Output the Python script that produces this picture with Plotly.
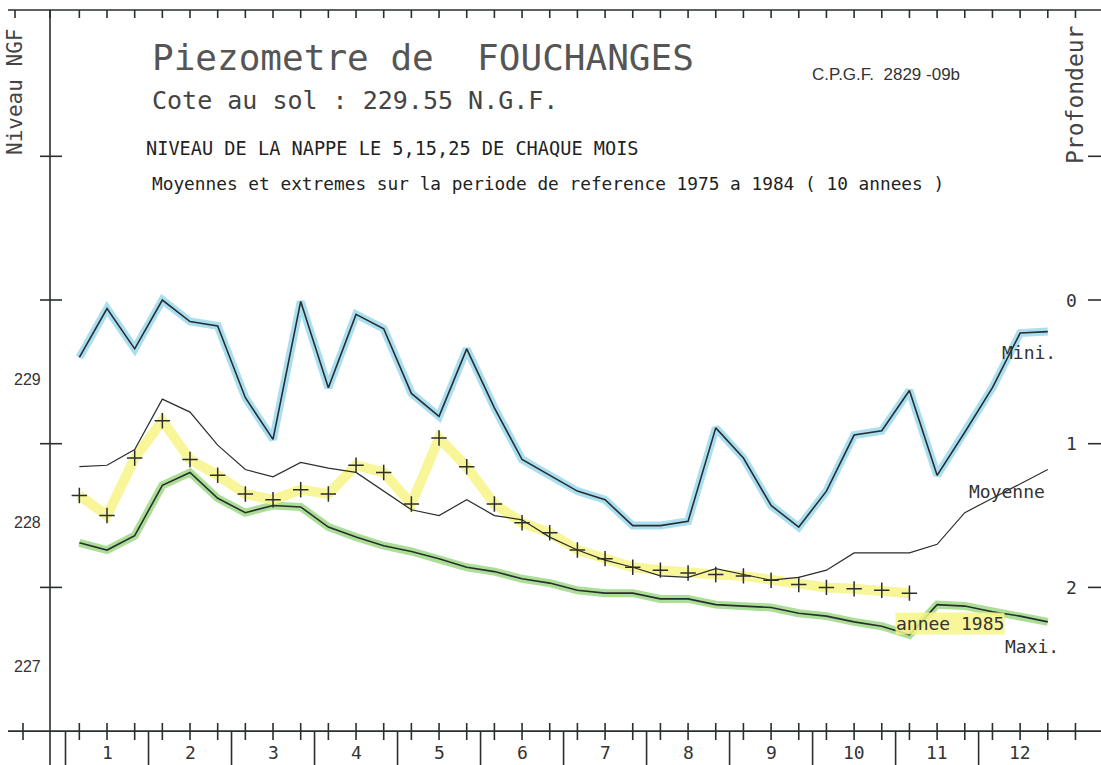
import plotly.graph_objects as go

# ---------------- data (levels in m NGF, one value per decade: 5, 15, 25 of each month)
months = ["1", "2", "3", "4", "5", "6", "7", "8", "9", "10", "11", "12"]

mini = [229.15, 229.49, 229.21, 229.55, 229.40, 229.37, 228.87, 228.58, 229.54,
        228.94, 229.45, 229.35, 228.90, 228.74, 229.21, 228.80, 228.44, 228.33,
        228.22, 228.16, 227.98, 227.98, 228.01, 228.66, 228.45, 228.12, 227.97,
        228.22, 228.61, 228.64, 228.92, 228.33, 228.63, 228.94, 229.32, 229.33]

moyenne = [228.39, 228.40, 228.51, 228.86, 228.77, 228.54, 228.37, 228.32, 228.42,
           228.38, 228.35, 228.22, 228.09, 228.05, 228.16, 228.05, 228.02, 227.90,
           227.81, 227.74, 227.69, 227.63, 227.62, 227.68, 227.64, 227.60, 227.62,
           227.67, 227.79, 227.79, 227.79, 227.85, 228.07, 228.17, 228.27, 228.37]

maxi = [227.86, 227.81, 227.91, 228.26, 228.35, 228.17, 228.07, 228.12, 228.11,
        227.97, 227.90, 227.84, 227.80, 227.75, 227.69, 227.66, 227.61, 227.58,
        227.53, 227.51, 227.51, 227.47, 227.47, 227.43, 227.42, 227.41, 227.37,
        227.35, 227.31, 227.28, 227.22, 227.43, 227.42, 227.38, 227.35, 227.31]

annee_1985 = [228.19, 228.05, 228.45, 228.71, 228.44, 228.33, 228.20, 228.16, 228.23,
              228.20, 228.40, 228.35, 228.13, 228.59, 228.39, 228.13, 228.00, 227.93,
              227.81, 227.75, 227.69, 227.67, 227.65, 227.64, 227.63, 227.60, 227.57,
              227.55, 227.54, 227.53, 227.51]

cote_sol = 229.55
depth_ticks = [0, 1, 2]
level_labels = [229, 228, 227]

# ---------------- geometry helpers (pixel -> data)
X0, XS = 65.5, 27.67          # pixel of x=0 and pixels per decade
Y0, YS = 300.0, 143.7         # pixel of ground level and pixels per metre


def X(px):
    return (px - X0) / XS


def Y(py):
    return cote_sol - (py - Y0) / YS


W, H = 1101, 765
INK = "#2a2e2e"
MONO = "DejaVu Sans Mono"

xd = [i + 0.5 for i in range(36)]
x85 = xd[:len(annee_1985)]

fig = go.Figure()

# highlighter bands
fig.add_trace(go.Scatter(x=xd, y=mini, mode="lines",
                         line=dict(color="rgba(140,212,235,0.75)", width=8),
                         hoverinfo="skip", showlegend=False))
fig.add_trace(go.Scatter(x=xd, y=maxi, mode="lines",
                         line=dict(color="rgba(135,208,105,0.7)", width=8),
                         hoverinfo="skip", showlegend=False))
fig.add_trace(go.Scatter(x=x85, y=annee_1985, mode="lines",
                         line=dict(color="rgba(247,245,135,0.85)", width=10),
                         hoverinfo="skip", showlegend=False))

# ink lines
fig.add_trace(go.Scatter(x=xd, y=mini, mode="lines", name="Mini.",
                         line=dict(color=INK, width=1.6), showlegend=False))
fig.add_trace(go.Scatter(x=xd, y=moyenne, mode="lines", name="Moyenne",
                         line=dict(color=INK, width=1.2), showlegend=False))
fig.add_trace(go.Scatter(x=xd, y=maxi, mode="lines", name="Maxi.",
                         line=dict(color=INK, width=1.6), showlegend=False))
fig.add_trace(go.Scatter(x=x85, y=annee_1985, mode="markers", name="annee 1985",
                         marker=dict(symbol="cross-thin", size=11,
                                     line=dict(color=INK, width=1.5)),
                         showlegend=False))

shapes = []


def seg(x0, y0, x1, y1, w=1.6):
    shapes.append(dict(type="line", xref="x", yref="y", x0=x0, y0=y0, x1=x1, y1=y1,
                       line=dict(color=INK, width=w)))


# frame: top line with ticks
seg(X(8), Y(10), X(W + 5), Y(10))
top_ticks = [X(15), X(50)] + xd + [36.5]
for t in top_ticks:
    seg(t, Y(10), t, Y(18))

# left axis
seg(X(50), Y(10), X(50), Y(H + 5))
for lv in [cote_sol + 1, cote_sol, cote_sol - 1, cote_sol - 2]:
    seg(X(40), lv, X(62), lv)

# bottom axis
ybase = cote_sol - 3
seg(X(8), ybase, X(W + 5), ybase)
for t in [X(23)] + xd + [36.5]:
    seg(t, Y(723), t, Y(740))
for m in range(12):
    seg(3 * m, ybase, 3 * m, Y(H + 5))

# right ticks
for d in [-1] + depth_ticks:
    lv = cote_sol - d
    seg(X(1088), lv, X(W + 5), lv)

ann = []


def text(s, px, py, size, family=MONO, anchor="left", color="#333333", angle=0, bg=None):
    a = dict(text=s, x=X(px), y=Y(py), xref="x", yref="y", showarrow=False,
             xanchor=anchor, yanchor="middle", textangle=angle,
             font=dict(family=family, size=size, color=color))
    if bg:
        a["bgcolor"] = bg
        a["borderpad"] = 0
    ann.append(a)


text("Piezometre de\u00a0\u00a0FOUCHANGES", 150, 57, 36, color="#555555")
text("C.P.G.F.\u00a0\u00a02829\u00a0-09b", 810, 74, 17, family="Liberation Sans")
text("Cote au sol : 229.55 N.G.F.", 150, 100, 25, color="#444444")
text("NIVEAU DE LA NAPPE LE 5,15,25 DE CHAQUE MOIS", 144, 148, 18.6, color="#222222")
text("Moyennes et extremes sur la periode de reference 1975 a 1984 ( 10 annees )",
     150, 183, 17.8, color="#222222")

text("Mini.", 1000, 352, 18)
text("Moyenne", 967, 491, 18)
text("Maxi.", 1003, 646, 18)
text("annee 1985", 895, 623, 18, bg="rgba(247,245,135,0.85)")

text("Profondeur", 1075, 95, 23, anchor="center", angle=-90, color="#444444")
text("Niveau NGF", 15, 92, 21, anchor="center", angle=-90, color="#444444")

for lv in level_labels:
    ann.append(dict(text=str(lv), x=X(27), y=lv, xref="x", yref="y", showarrow=False,
                    xanchor="center", yanchor="middle",
                    font=dict(family="Liberation Sans", size=16, color="#333333")))

for d in depth_ticks:
    ann.append(dict(text=str(d), x=X(1071), y=cote_sol - d, xref="x", yref="y",
                    showarrow=False, xanchor="center", yanchor="middle",
                    font=dict(family=MONO, size=18, color="#333333")))

for i, m in enumerate(months):
    ann.append(dict(text=m, x=3 * i + 1.5, y=Y(752), xref="x", yref="y", showarrow=False,
                    xanchor="center", yanchor="middle",
                    font=dict(family=MONO, size=18, color="#333333")))

fig.update_layout(
    width=W, height=H,
    margin=dict(l=0, r=0, t=0, b=0),
    paper_bgcolor="white", plot_bgcolor="white",
    xaxis=dict(range=[X(0), X(W)], visible=False, fixedrange=True),
    yaxis=dict(range=[Y(H), Y(0)], visible=False, fixedrange=True),
    shapes=shapes, annotations=ann, showlegend=False,
)

fig.write_html("out.html", config={"displayModeBar": False},
               post_script="document.body.style.margin='0';document.body.style.overflow='hidden';")
